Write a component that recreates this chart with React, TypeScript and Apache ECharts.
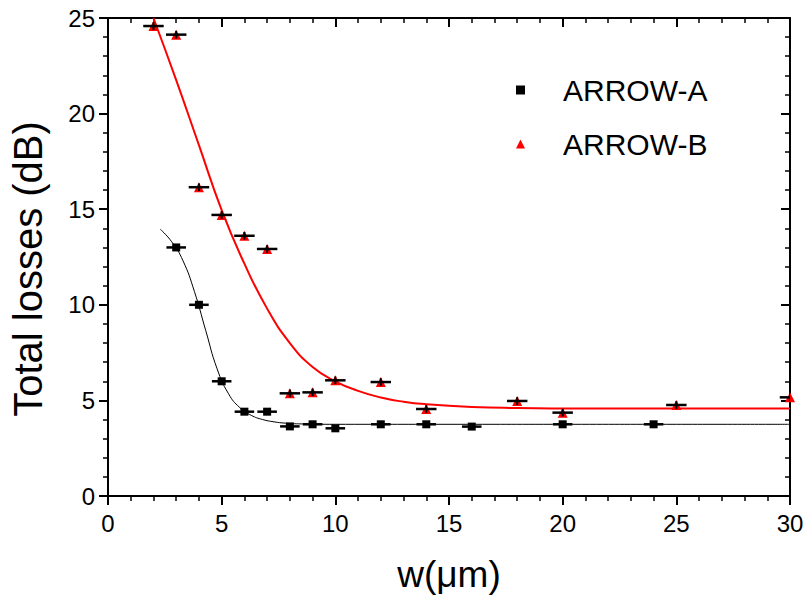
import React, { useEffect, useRef } from "react";
import * as echarts from "echarts";

// ARROW-A measured points
const xA = [3, 4, 5, 6, 7, 8, 9, 10, 12, 14, 16, 20, 24];
const yA = [13.0, 10.0, 6.0, 4.41, 4.41, 3.64, 3.75, 3.54, 3.75, 3.75, 3.63, 3.75, 3.75];
const xErrA = [0.43, 0.43, 0.43, 0.43, 0.43, 0.43, 0.43, 0.43, 0.43, 0.43, 0.43, 0.43, 0.43];
const yErrA = [0.15, 0.15, 0.15, 0.15, 0.15, 0.15, 0.15, 0.15, 0.15, 0.15, 0.15, 0.15, 0.15];

// ARROW-B measured points
const xB = [2, 3, 4, 5, 6, 7, 8, 9, 10, 12, 14, 18, 20, 25, 30];
const yB = [24.58, 24.13, 16.15, 14.7, 13.61, 12.92, 5.37, 5.42, 6.05, 5.96, 4.55, 4.97, 4.36, 4.76, 5.16];
const xErrB = [0.45, 0.45, 0.45, 0.45, 0.45, 0.45, 0.45, 0.45, 0.45, 0.45, 0.45, 0.45, 0.45, 0.45, 0.45];
const yErrB = [0.2, 0.2, 0.2, 0.2, 0.2, 0.2, 0.2, 0.2, 0.2, 0.2, 0.2, 0.2, 0.2, 0.2, 0.2];

// Fit curves
const fitAx = [2.3, 2.8, 3.3, 3.8, 4.3, 4.8, 5.3, 5.8, 6.3, 6.8, 7.3, 7.8, 8.5, 10, 15, 20, 25, 30];
const fitAy = [13.95, 13.3, 12.3, 10.7, 8.65, 6.65, 5.35, 4.62, 4.22, 4.0, 3.88, 3.81, 3.77, 3.75, 3.75, 3.75, 3.75, 3.75];
const fitBx = [2, 3, 4, 5, 6, 7, 8, 9, 10, 11, 12, 13, 14, 16, 18, 20, 25, 30];
const fitBy = [25.0, 21.75, 18.35, 14.95, 12.15, 9.8, 8.0, 6.75, 6.0, 5.5, 5.15, 4.93, 4.8, 4.66, 4.6, 4.58, 4.57, 4.57];

const FONT = "'Liberation Sans', Arial, sans-serif";

export default function App() {
  const ref = useRef<HTMLDivElement>(null);
  useEffect(() => {
    if (!ref.current) return;
    const chart = echarts.init(ref.current, undefined, { renderer: "svg" });
    const errRender = (color: string) => (params: any, api: any) => {
      const x = api.value(0), y = api.value(1), xe = api.value(2), ye = api.value(3);
      const l = api.coord([x - xe, y]);
      const r = api.coord([x + xe, y]);
      const t = api.coord([x, y + ye]);
      const b = api.coord([x, y - ye]);
      return {
        type: "group",
        children: [
          { type: "line", shape: { x1: l[0], y1: l[1], x2: r[0], y2: r[1] }, style: { stroke: color, lineWidth: 2.5 } },
          { type: "line", shape: { x1: t[0], y1: t[1], x2: b[0], y2: b[1] }, style: { stroke: color, lineWidth: 2 } },
        ],
      };
    };
    const axisCommon = {
      type: "value",
      splitLine: { show: false },
      axisLine: { show: true, onZero: false, lineStyle: { color: "#000", width: 2 } },
    };
    chart.setOption({
      animation: false,
      backgroundColor: "#fff",
      textStyle: { fontFamily: FONT },
      grid: { left: 108, right: 17, top: 18, bottom: 105, containLabel: false },
      graphic: [
        {
          type: "text",
          x: 28,
          y: 269,
          rotation: Math.PI / 2,
          style: {
            text: "Total losses (dB)",
            fontSize: 40,
            fontFamily: FONT,
            fill: "#000",
            align: "center",
            verticalAlign: "middle",
          },
        },
      ],
      legend: {
        orient: "vertical",
        left: 511,
        top: 70,
        itemWidth: 9,
        itemHeight: 9,
        itemGap: 24,
        data: [
          { name: "ARROW-A", icon: "rect", itemStyle: { color: "#000", opacity: 1 } },
          { name: "ARROW-B", icon: "triangle", itemStyle: { color: "#ff0000", opacity: 1 } },
        ],
        textStyle: { fontSize: 30, color: "#000", fontFamily: FONT, padding: [0, 0, 0, 33] },
      },
      xAxis: [
        {
          ...axisCommon,
          position: "bottom",
          min: 0,
          max: 30,
          interval: 5,
          name: "w(μm)",
          nameLocation: "middle",
          nameGap: 60,
          nameTextStyle: { fontSize: 37, color: "#000", fontFamily: FONT },
          axisTick: { show: true, inside: false, length: 9, lineStyle: { color: "#000", width: 2 } },
          minorTick: { show: true, splitNumber: 5, length: 5, lineStyle: { color: "#000", width: 1.5 } },
          axisLabel: { fontSize: 24, color: "#000", margin: 15, fontFamily: FONT },
        },
        {
          ...axisCommon,
          position: "top",
          min: 0,
          max: 30,
          interval: 5,
          axisTick: { show: true, inside: true, length: 9, lineStyle: { color: "#000", width: 2 } },
          minorTick: { show: true, splitNumber: 5, length: 5, lineStyle: { color: "#000", width: 1.5 } },
          axisLabel: { show: false },
        },
      ],
      yAxis: [
        {
          ...axisCommon,
          position: "left",
          min: 0,
          max: 25,
          interval: 5,
          axisTick: { show: true, inside: false, length: 9, lineStyle: { color: "#000", width: 2 } },
          minorTick: { show: true, splitNumber: 5, length: 5, lineStyle: { color: "#000", width: 1.5 } },
          axisLabel: { fontSize: 24, color: "#000", margin: 13, fontFamily: FONT },
        },
        {
          ...axisCommon,
          position: "right",
          min: 0,
          max: 25,
          interval: 5,
          axisTick: { show: true, inside: true, length: 9, lineStyle: { color: "#000", width: 2 } },
          minorTick: { show: true, splitNumber: 5, length: 5, lineStyle: { color: "#000", width: 1.5 } },
          axisLabel: { show: false },
        },
      ],
      series: [
        {
          name: "fitA",
          type: "line",
          data: fitAx.map((x, i) => [x, fitAy[i]]),
          smooth: 0.5,
          showSymbol: false,
          symbol: "none",
          lineStyle: { color: "#000", width: 1 },
          z: 2,
          silent: true,
        },
        {
          name: "fitB",
          type: "line",
          data: fitBx.map((x, i) => [x, fitBy[i]]),
          smooth: 0.5,
          showSymbol: false,
          symbol: "none",
          lineStyle: { color: "#ff0000", width: 2 },
          z: 2,
          silent: true,
        },
        {
          name: "ARROW-A",
          type: "scatter",
          data: xA.map((x, i) => [x, yA[i]]),
          symbol: "rect",
          symbolSize: 8,
          itemStyle: { color: "#000", opacity: 1 },
          z: 3,
        },
        {
          name: "ARROW-B",
          type: "scatter",
          data: xB.map((x, i) => [x, yB[i]]),
          symbol: "triangle",
          symbolSize: 10,
          itemStyle: { color: "#ff0000", opacity: 1 },
          z: 3,
        },
        {
          name: "errA",
          type: "custom",
          data: xA.map((x, i) => [x, yA[i], xErrA[i], yErrA[i]]),
          renderItem: errRender("#000"),
          encode: { x: 0, y: 1 },
          clip: true,
          z: 4,
          silent: true,
        },
        {
          name: "errB",
          type: "custom",
          data: xB.map((x, i) => [x, yB[i], xErrB[i], yErrB[i]]),
          renderItem: errRender("#000"),
          encode: { x: 0, y: 1 },
          clip: true,
          z: 4,
          silent: true,
        },
      ],
    });
    return () => chart.dispose();
  }, []);
  return (
    <div
      ref={ref}
      style={{ position: "fixed", left: 0, top: 0, width: 807, height: 601, background: "#fff" }}
    />
  );
}
